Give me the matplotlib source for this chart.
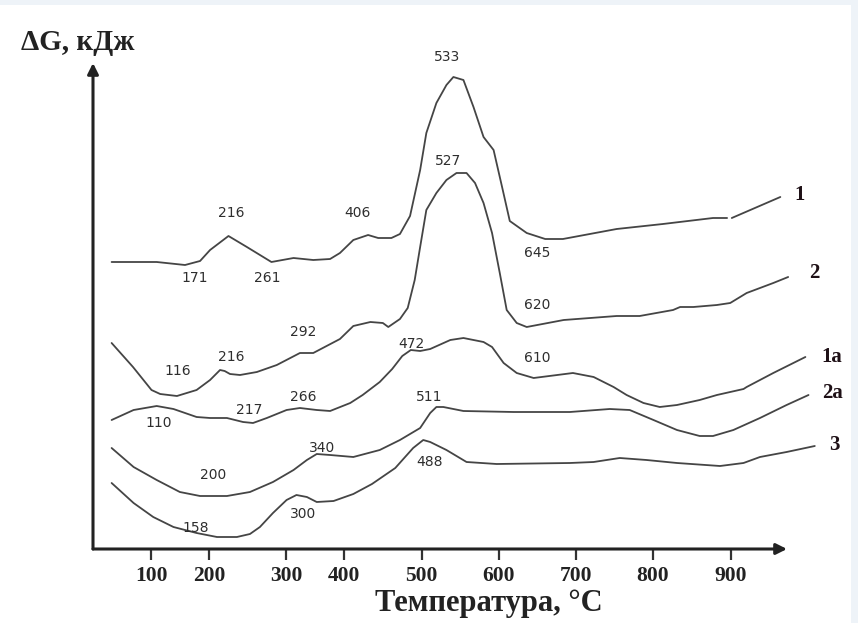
import numpy as np
import matplotlib
matplotlib.use('Agg')
import matplotlib.pyplot as plt
from matplotlib.patches import Rectangle

# ---- data (temperature, °C ; ΔG in arbitrary drawing units) ----
tick_values = [100, 200, 300, 400, 500, 600, 700, 800, 900]

c1_T = [31, 109, 158, 184, 201, 225, 249, 281, 313, 347, 376, 393, 412, 431, 444, 461, 472, 485, 498, 506,
        519, 532, 541, 554, 567, 580, 593, 604, 614, 636, 660, 683, 753, 813, 877, 895, np.nan, 901, 963]
c1_Y = [287, 287, 284, 288, 299, 313, 302, 287, 291, 289, 290, 296, 309, 314, 311, 311, 315, 333, 379, 416,
        446, 464, 472, 469, 442, 412, 399, 362, 328, 316, 310, 310, 320, 325, 331, 331, np.nan, 331, 352]

c2_T = [31, 68, 100, 115, 144, 178, 201, 214, 220, 227, 240, 262, 288, 324, 347, 393, 412, 434, 450, 457,
        472, 482, 491, 498, 506, 519, 532, 545, 558, 569, 580, 591, 601, 610, 623, 636, 684, 753, 783, 826,
        835, 852, 882, 899, 920, 954, 973]
c2_Y = [206, 182, 159, 155, 153, 159, 169, 179, 178, 175, 174, 177, 184, 196, 196, 210, 223, 227, 226, 222,
        230, 241, 269, 302, 339, 356, 369, 376, 376, 366, 346, 316, 276, 239, 226, 222, 229, 233, 233, 239,
        242, 242, 244, 246, 256, 266, 272]

c1a_T = [31, 69, 109, 138, 178, 201, 223, 244, 257, 275, 301, 324, 353, 376, 408, 424, 446, 462, 475, 486,
         498, 511, 537, 554, 580, 591, 606, 623, 645, 696, 723, 749, 766, 788, 809, 831, 860, 882, 916, 920,
         954, 995]
c1a_Y = [129, 139, 143, 140, 132, 131, 131, 127, 126, 131, 139, 141, 139, 138, 146, 154, 167, 180, 193, 199,
         198, 200, 209, 211, 207, 202, 186, 176, 171, 176, 172, 162, 154, 146, 142, 144, 149, 154, 160, 162,
         176, 192]

c2a_T = [31, 69, 109, 149, 184, 223, 253, 283, 313, 336, 353, 376, 412, 446, 472, 498, 511, 519, 528, 554,
         619, 692, 744, 770, 801, 831, 860, 877, 903, 937, 971, 999]
c2a_Y = [101, 82, 69, 57, 53, 53, 57, 67, 79, 89, 95, 94, 92, 99, 109, 121, 136, 142, 142, 138,
         137, 137, 140, 139, 129, 119, 113, 113, 119, 131, 144, 154]

c3_T = [31, 69, 103, 138, 178, 210, 236, 253, 266, 283, 301, 318, 336, 353, 382, 412, 436, 466, 489, 502,
        511, 532, 558, 597, 692, 723, 757, 792, 831, 886, 916, 937, 971, 1007]
c3_Y = [66, 46, 32, 22, 16, 12, 12, 15, 22, 36, 49, 54, 52, 47, 48, 55, 65, 81, 101, 109,
        107, 99, 87, 85, 86, 87, 91, 89, 86, 83, 86, 92, 97, 103]

ann_text = ["216", "171", "261", "406", "533", "527", "645", "620", "292", "216", "116",
            "472", "610", "266", "217", "110", "511", "340", "200", "488", "300", "158"]
ann_T = [229, 175, 275, 418, 533, 534, 649, 650, 330, 228, 145, 487, 650, 330, 252, 113, 510, 362, 205, 510, 330, 176]
ann_Y = [336, 271, 271, 336, 492, 388, 296, 244, 217, 192, 178, 205, 191, 152, 139, 126, 152, 101, 74, 87, 35, 21]

curve_names = ["1", "2", "1a", "2a", "3"]
label_T = [988, 1007, 1029, 1030, 1032]
label_Y = [354, 276, 192, 156, 104]

# ---- hand-drawn (non-uniform) temperature axis of the original figure ----
_tick_pos = [151.5, 209.3, 286, 344, 421.7, 499, 576, 652.7, 731]

def _pl(x, xp, fp):
    x = np.asarray(x, float)
    y = np.interp(x, xp, fp)
    y = np.where(x < xp[0], fp[0] + (x - xp[0]) * (fp[1] - fp[0]) / (xp[1] - xp[0]), y)
    y = np.where(x > xp[-1], fp[-1] + (x - xp[-1]) * (fp[-1] - fp[-2]) / (xp[-1] - xp[-2]), y)
    return np.where(np.isnan(x), np.nan, y)

def fwd(T):
    return _pl(T, tick_values, _tick_pos)

def inv(p):
    return _pl(p, _tick_pos, tick_values)

serif = ['Liberation Serif', 'DejaVu Serif']

fig = plt.figure(figsize=(8.58, 6.23), dpi=100, facecolor='#eef3f8')
fig.patches.append(Rectangle((0, 0), 851 / 858, 618 / 623, transform=fig.transFigure,
                             facecolor='white', edgecolor='none', zorder=-10))
ax = fig.add_axes([93 / 858, 1 - 549 / 623, (787 - 93) / 858, (549 - 63) / 623])
ax.set_facecolor('none')
ax.set_xscale('function', functions=(fwd, inv))
ax.set_xlim(float(inv(93)), float(inv(787)))
ax.set_ylim(0, 486)

for T, Y in [(c1_T, c1_Y), (c2_T, c2_Y), (c1a_T, c1a_Y), (c2a_T, c2a_Y), (c3_T, c3_Y)]:
    ax.plot(T, Y, color='#454545', lw=1.3, solid_joinstyle='round', solid_capstyle='round', clip_on=False)

for s, t, y in zip(ann_text, ann_T, ann_Y):
    ax.text(t, y, s, ha='center', va='center', fontsize=10, color='#2e2e2e')

for s, t, y in zip(curve_names, label_T, label_Y):
    ax.text(t, y, s, ha='center', va='center', fontsize=15, fontweight='bold',
            family=serif, color='#1e1016', clip_on=False)

for s in ax.spines.values():
    s.set_visible(False)
ax.set_yticks([])
ax.set_xticks(tick_values)
ax.set_xticklabels([str(t) for t in tick_values], fontsize=15.5, fontweight='bold',
                   family=serif, color='#222222')
ax.tick_params(axis='x', direction='out', length=8, width=1.6, color='#333333', pad=4)

arrow = dict(arrowstyle='-|>', lw=2.2, color='#222222', shrinkA=0, shrinkB=0, mutation_scale=16)
ax.annotate('', xy=(0, 1), xytext=(0, 0), xycoords='axes fraction', arrowprops=arrow)
ax.annotate('', xy=(1, 0), xytext=(0, 0), xycoords='axes fraction', arrowprops=arrow)

fig.text(78 / 858, 1 - 43 / 623, 'ΔG, кДж', ha='center', va='center', fontsize=21,
         fontweight='bold', family=serif, color='#222222')
fig.text(489 / 858, 1 - 603 / 623, 'Температура, °C', ha='center', va='center', fontsize=22,
         fontweight='bold', family=serif, color='#222222')

fig.savefig('out.png', dpi=100, facecolor=fig.get_facecolor())
